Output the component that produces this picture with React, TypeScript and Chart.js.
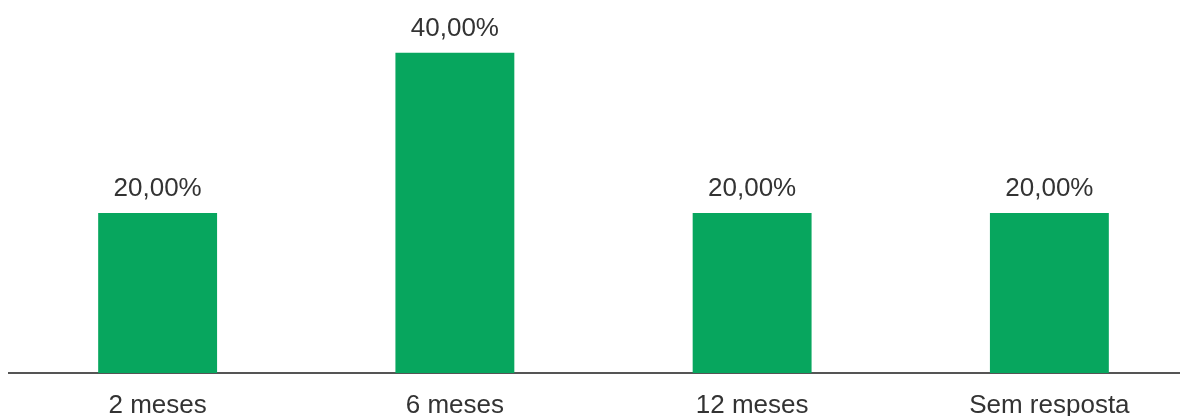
import React, { useEffect, useRef } from "react";
import { Chart, registerables } from "chart.js";

Chart.register(...registerables);

const categories = ["2 meses", "6 meses", "12 meses", "Sem resposta"];
const shares = [20, 40, 20, 20];
const valueLabels = ["20,00%", "40,00%", "20,00%", "20,00%"];

const BAR_COLOR = "#07a65e";
const TEXT_COLOR = "#333333";
const FONT_FAMILY = "'Liberation Sans', Arial, sans-serif";

const valueLabelPlugin = {
  id: "valueLabels",
  afterDatasetsDraw(chart: any) {
    const { ctx } = chart;
    const meta = chart.getDatasetMeta(0);
    ctx.save();
    ctx.font = `26px ${FONT_FAMILY}`;
    ctx.fillStyle = TEXT_COLOR;
    ctx.textAlign = "center";
    ctx.textBaseline = "alphabetic";
    meta.data.forEach((bar: any, i: number) => {
      ctx.fillText(valueLabels[i], bar.x, bar.y - 17);
    });
    ctx.restore();
  },
};

export default function App() {
  const canvasRef = useRef<HTMLCanvasElement | null>(null);

  useEffect(() => {
    if (!canvasRef.current) return;
    const chart = new Chart(canvasRef.current, {
      type: "bar",
      data: {
        labels: categories,
        datasets: [
          {
            data: shares,
            backgroundColor: BAR_COLOR,
            barPercentage: 0.4,
            categoryPercentage: 1,
          },
        ],
      },
      options: {
        animation: false,
        responsive: true,
        maintainAspectRatio: false,
        layout: { padding: { left: 1, right: 0, top: 0, bottom: 0 } },
        plugins: {
          legend: { display: false },
          tooltip: { enabled: false },
        },
        scales: {
          x: {
            grid: { display: false, drawTicks: false },
            border: { display: true, color: "#555555", width: 2 },
            ticks: {
              color: TEXT_COLOR,
              font: { family: FONT_FAMILY, size: 26 },
              padding: 17,
              maxRotation: 0,
              autoSkip: false,
            },
            afterFit(scale: any) {
              scale.height = 43;
            },
          },
          y: {
            display: false,
            min: 0,
            max: 45.6,
          },
        },
      },
      plugins: [valueLabelPlugin],
    });
    return () => chart.destroy();
  }, []);

  return (
    <div style={{ width: 1180, height: 408, overflow: "hidden" }}>
      <div style={{ width: 1190, height: 408, position: "relative" }}>
        <canvas ref={canvasRef} />
      </div>
    </div>
  );
}
